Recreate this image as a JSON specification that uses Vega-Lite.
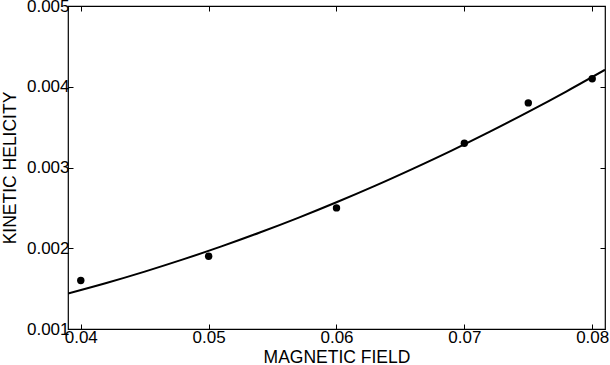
{
  "$schema": "https://vega.github.io/schema/vega-lite/v6.json",
  "width": 537,
  "height": 323,
  "autosize": "none",
  "padding": {"left": 68, "top": 6, "right": 5, "bottom": 36},
  "background": "white",
  "config": {
    "view": {"stroke": "black", "strokeWidth": 1.2},
    "font": "Liberation Sans",
    "axis": {
      "grid": false,
      "domain": false,
      "tickColor": "black",
      "tickSize": -5,
      "tickWidth": 1,
      "labelColor": "black",
      "labelFont": "Liberation Sans",
      "labelFontSize": 17,
      "titleFont": "Liberation Sans",
      "titleFontSize": 17.5,
      "titleFontWeight": "normal",
      "titleColor": "black"
    }
  },
  "datasets": {
    "fit": [
      {"field": 0.039, "helicity": 0.00144},
      {"field": 0.042, "helicity": 0.00157},
      {"field": 0.045, "helicity": 0.001711},
      {"field": 0.048, "helicity": 0.001862},
      {"field": 0.051, "helicity": 0.002023},
      {"field": 0.054, "helicity": 0.002195},
      {"field": 0.057, "helicity": 0.002377},
      {"field": 0.060, "helicity": 0.00257},
      {"field": 0.063, "helicity": 0.002773},
      {"field": 0.066, "helicity": 0.002987},
      {"field": 0.069, "helicity": 0.00321},
      {"field": 0.072, "helicity": 0.003444},
      {"field": 0.075, "helicity": 0.003689},
      {"field": 0.078, "helicity": 0.003944},
      {"field": 0.081, "helicity": 0.00421}
    ],
    "obs": [
      {"field": 0.04, "helicity": 0.0016},
      {"field": 0.05, "helicity": 0.0019},
      {"field": 0.06, "helicity": 0.0025},
      {"field": 0.07, "helicity": 0.0033},
      {"field": 0.075, "helicity": 0.0038},
      {"field": 0.08, "helicity": 0.0041}
    ]
  },
  "layer": [
    {
      "data": {"name": "fit"},
      "mark": {"type": "line", "color": "black", "strokeWidth": 2, "interpolate": "monotone", "clip": true},
      "encoding": {
        "x": {"field": "field", "type": "quantitative", "scale": {"domain": [0.039, 0.081], "nice": false, "zero": false},
          "axis": {"orient": "bottom", "title": "MAGNETIC FIELD", "values": [0.04, 0.05, 0.06, 0.07, 0.08], "format": ".2f", "labelPadding": 5, "titleBaseline": "alphabetic", "titleY": 33}},
        "y": {"field": "helicity", "type": "quantitative", "scale": {"domain": [0.001, 0.005], "nice": false, "zero": false},
          "axis": {"orient": "left", "title": "KINETIC HELICITY", "values": [0.001, 0.002, 0.003, 0.004, 0.005], "format": ".3f", "labelPadding": 4, "titlePadding": 7}}
      }
    },
    {
      "data": {"name": "obs"},
      "mark": {"type": "point", "filled": true, "color": "black", "opacity": 1, "size": 55},
      "encoding": {
        "x": {"field": "field", "type": "quantitative",
          "axis": {"orient": "top", "title": null, "labels": false, "values": [0.04, 0.05, 0.06, 0.07, 0.08]}},
        "y": {"field": "helicity", "type": "quantitative",
          "axis": {"orient": "right", "title": null, "labels": false, "values": [0.001, 0.002, 0.003, 0.004, 0.005]}}
      }
    }
  ],
  "resolve": {"axis": {"x": "independent", "y": "independent"}}
}
